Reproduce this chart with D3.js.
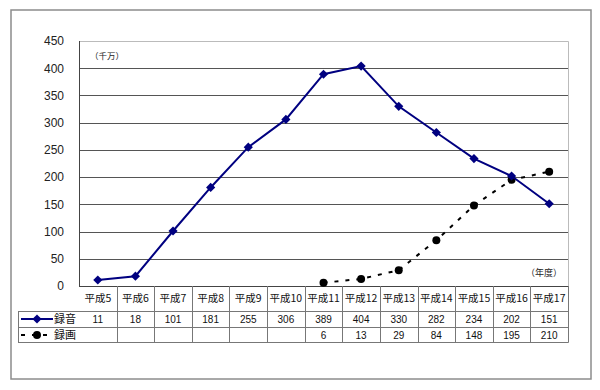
<!DOCTYPE html>
<html>
<head>
<meta charset="utf-8">
<script src="https://cdn.jsdelivr.net/npm/d3@7"></script>
<style>
  body { margin: 0; background: #fff; }
  text { font-family: "Liberation Sans", Arial, sans-serif; }
  .jp { font-family: "Noto Sans CJK JP", sans-serif; }
</style>
</head>
<body>
<div id="chart"></div>
<script>
const categories = ['平成5', '平成6', '平成7', '平成8', '平成9', '平成10', '平成11', '平成12', '平成13', '平成14', '平成15', '平成16', '平成17']
const audio = [11, 18, 101, 181, 255, 306, 389, 404, 330, 282, 234, 202, 151]
const video = [null, null, null, null, null, null, 6, 13, 29, 84, 148, 195, 210]
const yTicks = [0, 50, 100, 150, 200, 250, 300, 350, 400, 450]
const seriesNames = ['録音', '録画']

const width = 600
const height = 390
const plot = { left: 79, right: 568, top: 41, bottom: 286 }
const rows = [286, 311, 327, 342]
const legendLeft = 18

const svg = d3.select('#chart')
  .append('svg')
  .attr('width', width)
  .attr('height', height)

// outer frame
svg.append('rect')
  .attr('x', 11).attr('y', 10)
  .attr('width', 580).attr('height', 369)
  .attr('fill', 'none')
  .attr('stroke', '#8c8c8c')
  .attr('stroke-width', 1.5)

const x = d3.scaleBand()
  .domain(categories)
  .range([plot.left, plot.right])

const y = d3.scaleLinear()
  .domain([0, 450])
  .range([plot.bottom, plot.top])

// grid lines
svg.append('g')
  .selectAll('line')
  .data(yTicks.filter((d) => d > 0 && d < 450))
  .enter()
  .append('line')
  .attr('x1', plot.left).attr('x2', plot.right)
  .attr('y1', (d) => Math.round(y(d)) + 0.5)
  .attr('y2', (d) => Math.round(y(d)) + 0.5)
  .attr('stroke', '#555')

// plot border top/right (light)
svg.append('path')
  .attr('d', `M${plot.left},${plot.top + 0.5}H${plot.right + 0.5}V${plot.bottom}`)
  .attr('fill', 'none')
  .attr('stroke', '#bbb')

// left axis
svg.append('line')
  .attr('x1', plot.left + 0.5).attr('x2', plot.left + 0.5)
  .attr('y1', plot.top).attr('y2', rows[0])
  .attr('stroke', '#444')

const yAxis = d3.axisLeft(y).tickValues(yTicks).tickSize(0).tickPadding(15)
const yg = svg.append('g')
  .attr('transform', `translate(${plot.left},0)`)
  .call(yAxis)
yg.select('.domain').remove()
yg.selectAll('text')
  .attr('font-size', 12)
  .attr('fill', '#222')
  .style('font-family', '"Liberation Sans", Arial, sans-serif')

// unit labels
svg.append('text')
  .attr('class', 'jp')
  .attr('x', 90).attr('y', 59)
  .attr('font-size', 8.5)
  .attr('fill', '#222')
  .text('（千万）')
svg.append('text')
  .attr('class', 'jp')
  .attr('x', 562).attr('y', 276)
  .attr('text-anchor', 'end')
  .attr('font-size', 9)
  .attr('fill', '#222')
  .text('（年度）')

// data table
const table = svg.append('g').attr('stroke', '#777').attr('fill', 'none')
table.append('line')
  .attr('x1', plot.left).attr('x2', plot.right + 0.5)
  .attr('y1', rows[0] + 0.5).attr('y2', rows[0] + 0.5)
  .attr('stroke', '#444')
rows.slice(1).forEach((r) => {
  table.append('line')
    .attr('x1', legendLeft).attr('x2', plot.right + 0.5)
    .attr('y1', r + 0.5).attr('y2', r + 0.5)
})
table.append('line')
  .attr('x1', legendLeft + 0.5).attr('x2', legendLeft + 0.5)
  .attr('y1', rows[1]).attr('y2', rows[3] + 0.5)
table.selectAll('line.col')
  .data(categories)
  .enter()
  .append('line')
  .attr('class', 'col')
  .attr('x1', (d) => Math.round(x(d) + x.bandwidth()) + 0.5)
  .attr('x2', (d) => Math.round(x(d) + x.bandwidth()) + 0.5)
  .attr('y1', rows[0])
  .attr('y2', rows[3] + 0.5)

svg.append('g')
  .selectAll('text')
  .data(categories)
  .enter()
  .append('text')
  .attr('class', 'jp')
  .attr('x', (d) => x(d) + x.bandwidth() / 2)
  .attr('y', 302)
  .attr('text-anchor', 'middle')
  .attr('font-size', 10.5)
  .attr('fill', '#111')
  .text((d) => d)

const rowValues = [audio, video]
rowValues.forEach((vals, i) => {
  svg.append('g')
    .selectAll('text')
    .data(vals.map((v, j) => ({ v, c: categories[j] })).filter((d) => d.v !== null))
    .enter()
    .append('text')
    .attr('x', (d) => x(d.c) + x.bandwidth() / 2)
    .attr('y', rows[i + 1] + 12)
    .attr('text-anchor', 'middle')
    .attr('font-size', 10)
    .attr('fill', '#111')
    .text((d) => d.v)
})

// markers: square rotated 45deg gives Excel-like diamond
const diamond = d3.symbol().type(d3.symbolSquare).size(42)
const circle = d3.symbol().type(d3.symbolCircle).size(50)
const lg = svg.append('g')
lg.append('line')
  .attr('x1', 21).attr('x2', 53)
  .attr('y1', rows[1] + 8).attr('y2', rows[1] + 8)
  .attr('stroke', '#000080').attr('stroke-width', 2)
lg.append('path')
  .attr('d', diamond)
  .attr('transform', `translate(37,${rows[1] + 8}) rotate(45)`)
  .attr('fill', '#000080')
lg.append('line')
  .attr('x1', 21).attr('x2', 53)
  .attr('y1', rows[2] + 8).attr('y2', rows[2] + 8)
  .attr('stroke', '#000').attr('stroke-width', 2)
  .attr('stroke-dasharray', '4,7')
lg.append('path')
  .attr('d', circle)
  .attr('transform', `translate(37,${rows[2] + 8})`)
  .attr('fill', '#000')
seriesNames.forEach((name, i) => {
  lg.append('text')
    .attr('class', 'jp')
    .attr('x', 54).attr('y', rows[i + 1] + 12)
    .attr('font-size', 11)
    .attr('fill', '#111')
    .text(name)
})

// series lines
const cx = (i) => x(categories[i]) + x.bandwidth() / 2
const line = d3.line()
  .defined((d) => d !== null)
  .x((d, i) => cx(i))
  .y((d) => y(d))

svg.append('path')
  .datum(video)
  .attr('d', line)
  .attr('fill', 'none')
  .attr('stroke', '#000')
  .attr('stroke-width', 2)
  .attr('stroke-dasharray', '4,7')

svg.append('g')
  .selectAll('path')
  .data(video.map((v, i) => ({ v, i })).filter((d) => d.v !== null))
  .enter()
  .append('path')
  .attr('d', circle)
  .attr('transform', (d) => `translate(${cx(d.i)},${y(d.v)})`)
  .attr('fill', '#000')

svg.append('path')
  .datum(audio)
  .attr('d', line)
  .attr('fill', 'none')
  .attr('stroke', '#000080')
  .attr('stroke-width', 2)

svg.append('g')
  .selectAll('path')
  .data(audio.map((v, i) => ({ v, i })))
  .enter()
  .append('path')
  .attr('d', diamond)
  .attr('transform', (d) => `translate(${cx(d.i)},${y(d.v)}) rotate(45)`)
  .attr('fill', '#000080')
</script>
</body>
</html>
